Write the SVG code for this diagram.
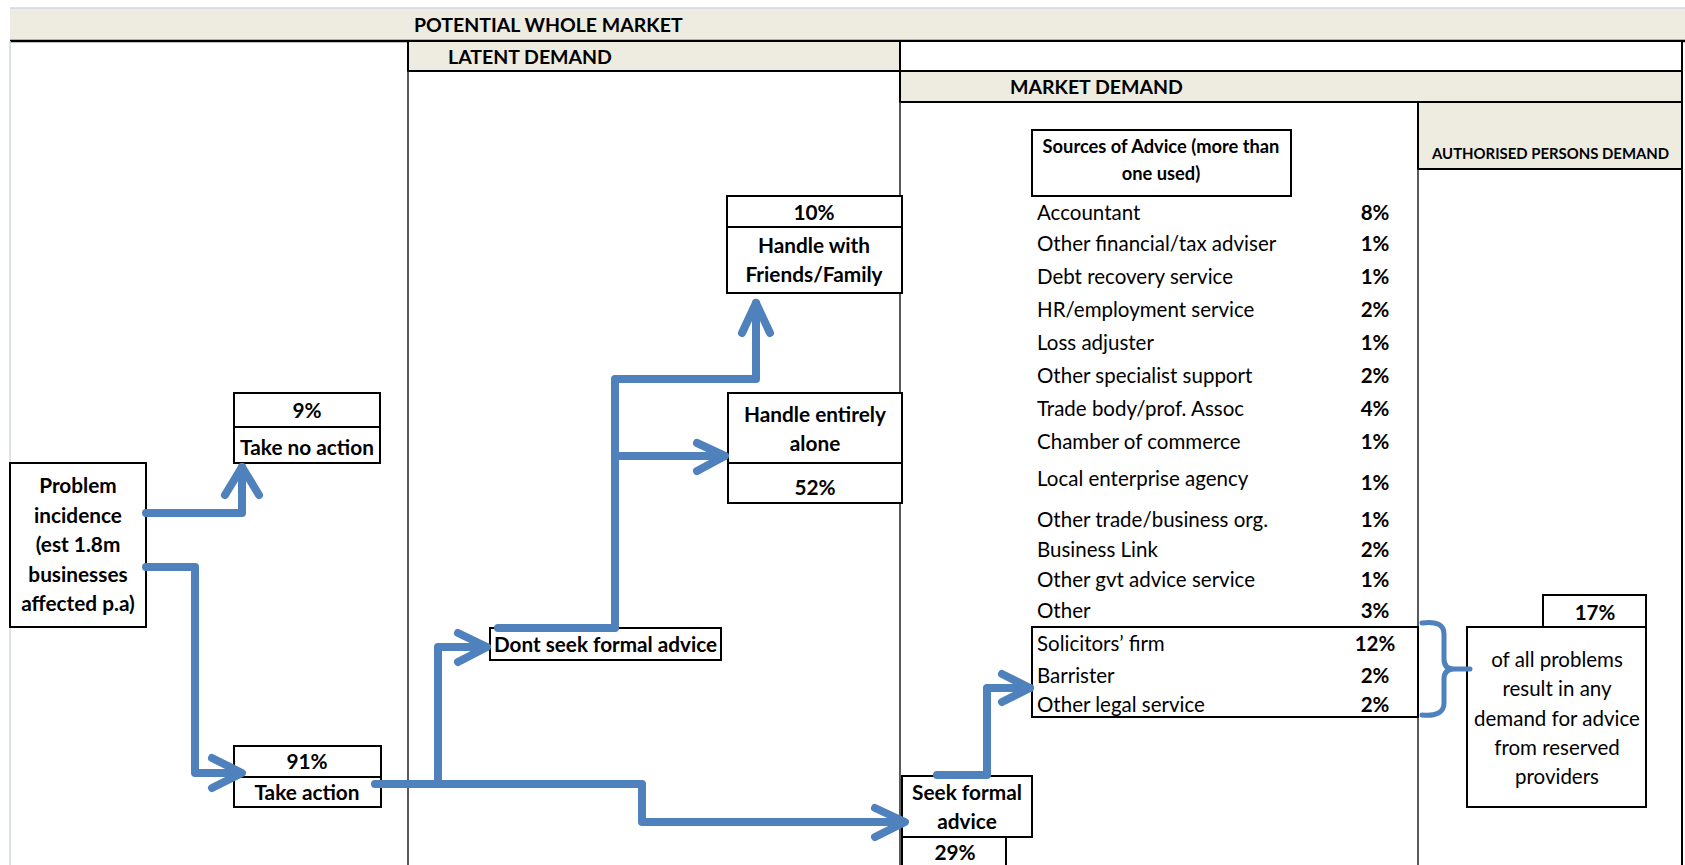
<svg xmlns="http://www.w3.org/2000/svg" width="1685" height="865" viewBox="0 0 1685 865">
<style>
  .band { fill: #EEECE1; stroke: #000; stroke-width: 2; }
  .box { fill: #fff; stroke: #000; stroke-width: 2; }
  .col { stroke: #222; stroke-width: 1.5; }
  .t { font-family: Lato, "Liberation Sans", sans-serif; fill: #000; }
  .b { font-weight: bold; }
  .hdr { font-size: 19.5px; font-weight: bold; }
  .nd { font-size: 20.8px; font-weight: bold; text-anchor: middle; }
  .li { font-size: 20.5px; }
  .pc { font-size: 20.5px; font-weight: bold; text-anchor: middle; }
  .con { fill: none; stroke: #4F81BD; stroke-width: 8; stroke-linejoin: round; stroke-linecap: round; }
  .brace { fill: none; stroke: #4F81BD; stroke-width: 5; stroke-linecap: round; }
</style>
<rect x="0" y="0" width="1685" height="865" fill="#fff"/>

<g id="frame">
  <rect x="10" y="8" width="1675" height="33" fill="#EEECE1"/>
  <line x1="10" y1="8" x2="1685" y2="8" stroke="#D0D7E5" stroke-width="1.5"/>
  <line x1="10" y1="41" x2="1685" y2="41" stroke="#000" stroke-width="2.5"/>
  <line x1="10" y1="41" x2="10" y2="865" stroke="#D0D7E5" stroke-width="1.5"/>
  <rect class="band" x="408" y="41" width="492" height="30"/>
  <rect class="box" x="900" y="41" width="782" height="30"/>
  <rect class="band" x="900" y="71" width="782" height="31"/>
  <rect class="band" x="1418" y="102" width="264" height="67"/>
  <line class="col" x1="408" y1="71" x2="408" y2="865"/>
  <line class="col" x1="900" y1="102" x2="900" y2="865"/>
  <line class="col" x1="1418" y1="169" x2="1418" y2="865"/>
  <line x1="1682" y1="169" x2="1682" y2="865" stroke="#000" stroke-width="2"/>
  <text class="t hdr" x="414" y="32" font-size="19.1">POTENTIAL WHOLE MARKET</text>
  <text class="t hdr" x="448" y="64">LATENT DEMAND</text>
  <text class="t hdr" x="1010" y="94">MARKET DEMAND</text>
  <text class="t b" x="1432" y="159" font-size="14.9">AUTHORISED PERSONS DEMAND</text>
</g>

<g id="problem">
  <rect class="box" x="10" y="463" width="136" height="164"/>
  <text class="t nd" x="78" y="493">Problem</text>
  <text class="t nd" x="78" y="523">incidence</text>
  <text class="t nd" x="78" y="552">(est 1.8m</text>
  <text class="t nd" x="78" y="582">businesses</text>
  <text class="t nd" x="78" y="611">affected p.a)</text>
</g>

<g id="take-no-action">
  <rect class="box" x="234" y="393" width="146" height="70"/>
  <line x1="234" y1="427" x2="380" y2="427" stroke="#000" stroke-width="2"/>
  <text class="t nd" x="307" y="418">9%</text>
  <text class="t nd" x="307" y="455">Take no action</text>
</g>

<g id="take-action">
  <rect class="box" x="234" y="746" width="147" height="61"/>
  <line x1="234" y1="777" x2="381" y2="777" stroke="#000" stroke-width="2"/>
  <text class="t nd" x="307" y="769">91%</text>
  <text class="t nd" x="307" y="800">Take action</text>
</g>

<g id="dont-seek">
  <rect class="box" x="490" y="628" width="231" height="32"/>
  <text class="t b" x="494" y="652" font-size="20.7">Dont seek formal advice</text>
</g>

<g id="friends-family">
  <rect class="box" x="727" y="196" width="175" height="97"/>
  <line x1="727" y1="227" x2="902" y2="227" stroke="#000" stroke-width="2"/>
  <text class="t nd" x="814" y="220">10%</text>
  <text class="t nd" x="814" y="253">Handle with</text>
  <text class="t nd" x="814" y="282">Friends/Family</text>
</g>

<g id="handle-alone">
  <rect class="box" x="728" y="393" width="174" height="110"/>
  <line x1="728" y1="463" x2="902" y2="463" stroke="#000" stroke-width="2"/>
  <text class="t nd" x="815" y="422">Handle entirely</text>
  <text class="t nd" x="815" y="451">alone</text>
  <text class="t nd" x="815" y="495">52%</text>
</g>

<g id="seek-formal">
  <rect class="box" x="902" y="837" width="104" height="40"/>
  <rect class="box" x="902" y="776" width="130" height="61"/>
  <text class="t nd" x="967" y="800">Seek formal</text>
  <text class="t nd" x="967" y="829">advice</text>
  <text class="t nd" x="955" y="860">29%</text>
</g>

<g id="sources">
  <rect class="box" x="1032" y="130" width="259" height="66"/>
  <text class="t b" x="1161" y="153" font-size="18.3" text-anchor="middle">Sources of Advice (more than</text>
  <text class="t b" x="1161" y="180" font-size="18.3" text-anchor="middle">one used)</text>
  <text class="t li" x="1037" y="220">Accountant</text>
  <text class="t li" x="1037" y="251">Other financial/tax adviser</text>
  <text class="t li" x="1037" y="284">Debt recovery service</text>
  <text class="t li" x="1037" y="317">HR/employment service</text>
  <text class="t li" x="1037" y="350">Loss adjuster</text>
  <text class="t li" x="1037" y="383">Other specialist support</text>
  <text class="t li" x="1037" y="416">Trade body/prof. Assoc</text>
  <text class="t li" x="1037" y="449">Chamber of commerce</text>
  <text class="t li" x="1037" y="486">Local enterprise agency</text>
  <text class="t li" x="1037" y="527">Other trade/business org.</text>
  <text class="t li" x="1037" y="557">Business Link</text>
  <text class="t li" x="1037" y="587">Other gvt advice service</text>
  <text class="t li" x="1037" y="618">Other</text>
  <text class="t pc" x="1375" y="220">8%</text>
  <text class="t pc" x="1375" y="251">1%</text>
  <text class="t pc" x="1375" y="284">1%</text>
  <text class="t pc" x="1375" y="317">2%</text>
  <text class="t pc" x="1375" y="350">1%</text>
  <text class="t pc" x="1375" y="383">2%</text>
  <text class="t pc" x="1375" y="416">4%</text>
  <text class="t pc" x="1375" y="449">1%</text>
  <text class="t pc" x="1375" y="490">1%</text>
  <text class="t pc" x="1375" y="527">1%</text>
  <text class="t pc" x="1375" y="557">2%</text>
  <text class="t pc" x="1375" y="587">1%</text>
  <text class="t pc" x="1375" y="618">3%</text>
</g>

<g id="legal">
  <rect class="box" x="1032" y="627" width="386" height="90"/>
  <text class="t li" x="1037" y="651">Solicitors’ firm</text>
  <text class="t li" x="1037" y="683">Barrister</text>
  <text class="t li" x="1037" y="712">Other legal service</text>
  <text class="t pc" x="1375" y="651">12%</text>
  <text class="t pc" x="1375" y="683">2%</text>
  <text class="t pc" x="1375" y="712">2%</text>
</g>

<g id="reserved">
  <rect class="box" x="1543" y="595" width="103" height="32"/>
  <rect class="box" x="1467" y="627" width="179" height="180"/>
  <text class="t pc" x="1595" y="620">17%</text>
  <text class="t li" x="1557" y="667" text-anchor="middle">of all problems</text>
  <text class="t li" x="1557" y="696" text-anchor="middle">result in any</text>
  <text class="t li" x="1557" y="726" text-anchor="middle">demand for advice</text>
  <text class="t li" x="1557" y="755" text-anchor="middle">from reserved</text>
  <text class="t li" x="1557" y="784" text-anchor="middle">providers</text>
</g>

<g id="connectors">
  <path class="con" d="M146,513 H242 V467"/>
  <path class="con" d="M225,495 L242,467 L259,495"/>
  <path class="con" d="M146,567 H195 V773 H240"/>
  <path class="con" d="M212,758 L242,773 L212,788"/>
  <path class="con" d="M375,784 H642 V822 H903"/>
  <path class="con" d="M875,808 L905,822 L875,837"/>
  <path class="con" d="M438,784 V647 H486"/>
  <path class="con" d="M458,633 L487,647 L458,662"/>
  <path class="con" d="M498,628 H615 V379 H756 V303"/>
  <path class="con" d="M742,333 L756,303 L770,333"/>
  <path class="con" d="M615,456 H724"/>
  <path class="con" d="M697,443 L725,456 L697,471"/>
  <path class="con" d="M937,775 H987 V688 H1030"/>
  <path class="con" d="M1002,674 L1030,688 L1002,702"/>
  <path class="brace" d="M1422,623 Q1444,620 1444,634 V659 Q1444,669 1454,669 H1470 M1454,669 Q1444,669 1444,679 V703 Q1444,717 1422,715"/>
</g>
</svg>
